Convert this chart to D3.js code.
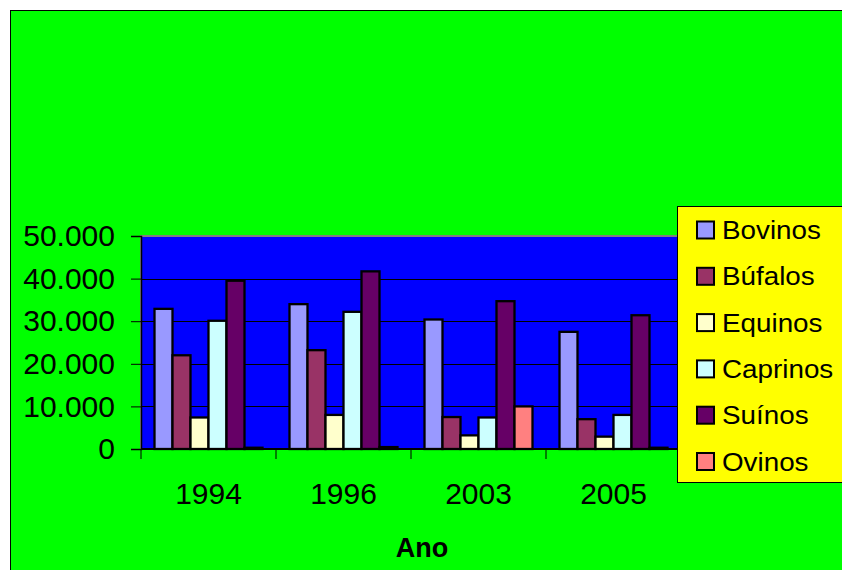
<!DOCTYPE html>
<html>
<head>
<meta charset="utf-8">
<script src="https://cdn.jsdelivr.net/npm/d3@7"></script>
<style>
  html, body { margin: 0; padding: 0; background: #fff; }
  svg { display: block; font-family: "Liberation Sans", Arial, sans-serif; }
</style>
</head>
<body>
<svg id="chart" width="842" height="570"></svg>
<script>
const years = ["1994", "1996", "2003", "2005"];
const series = ["Bovinos", "Búfalos", "Equinos", "Caprinos", "Suínos", "Ovinos"];
const colors = ["#9999FF", "#993366", "#FFFFCC", "#CCFFFF", "#660066", "#FF8080"];
const bovinos  = [32900, 34000, 30400, 27500];
const bufalos  = [22000, 23200, 7500, 7000];
const equinos  = [7400, 8000, 3200, 2900];
const caprinos = [30100, 32200, 7400, 8000];
const suinos   = [39500, 41700, 34700, 31400];
const ovinos   = [300, 450, 10000, 300];
const yTicks = [0, 10000, 20000, 30000, 40000, 50000];
const xTitle = "Ano";

const values = [bovinos, bufalos, equinos, caprinos, suinos, ovinos];

const svg = d3.select("#chart");

// background
svg.append("rect").attr("x", 10.5).attr("y", 10.5).attr("width", 840).attr("height", 570)
  .attr("fill", "#00FF00").attr("stroke", "#000").attr("stroke-width", 1);

const plot = { left: 141, right: 681, top: 236, bottom: 449 };

const x0 = d3.scaleBand().domain(years).range([plot.left, plot.right])
  .paddingInner(0.2).paddingOuter(0.1);
const x1 = d3.scaleBand().domain(series).range([0, x0.bandwidth()]);
const y = d3.scaleLinear().domain([0, 50000]).range([plot.bottom, plot.top]);

// plot area
svg.append("rect").attr("x", plot.left).attr("y", plot.top)
  .attr("width", plot.right - plot.left).attr("height", plot.bottom - plot.top)
  .attr("fill", "#0000FF").attr("stroke", "#808080").attr("stroke-width", 2);

// gridlines
svg.append("g").selectAll("line").data(yTicks.filter(d => d > 0 && d < 50000)).join("line")
  .attr("x1", plot.left).attr("x2", plot.right)
  .attr("y1", d => Math.round(y(d)) + 0.5).attr("y2", d => Math.round(y(d)) + 0.5)
  .attr("stroke", "#000").attr("stroke-width", 1);

// bars
const groups = svg.append("g").selectAll("g").data(years).join("g")
  .attr("transform", d => `translate(${x0(d)},0)`);
groups.selectAll("rect").data((d, i) => series.map((s, j) => ({ s, j, v: values[j][i] }))).join("rect")
  .attr("x", d => x1(d.s))
  .attr("y", d => y(d.v))
  .attr("width", x1.bandwidth())
  .attr("height", d => y(0) - y(d.v))
  .attr("fill", d => colors[d.j])
  .attr("stroke", "#000").attr("stroke-width", 2.3);

// y axis
const yAxis = d3.axisLeft(y).tickValues(yTicks).tickSize(10).tickPadding(16)
  .tickFormat(d => d3.format(",")(d).replace(/,/g, "."));
const ya = svg.append("g").attr("transform", `translate(${plot.left},0)`).call(yAxis);
ya.select(".domain").attr("stroke", "#000").attr("stroke-width", 1.5);
ya.selectAll(".tick line").attr("stroke", "#000");
ya.selectAll(".tick text").attr("font-size", 30).attr("fill", "#000")
  .attr("font-family", "Liberation Sans, Arial, sans-serif");

// x axis
const xb = d3.scaleLinear().domain([0, years.length]).range([plot.left, plot.right]);
const xa = svg.append("g").attr("transform", `translate(0,${plot.bottom})`);
xa.append("line").attr("x1", plot.left).attr("x2", plot.right).attr("y1", 0).attr("y2", 0)
  .attr("stroke", "#000").attr("stroke-width", 2);
xa.selectAll("line.tk").data(d3.range(years.length + 1)).join("line").attr("class", "tk")
  .attr("x1", d => xb(d)).attr("x2", d => xb(d)).attr("y1", 0).attr("y2", 10)
  .attr("stroke", "#000").attr("stroke-width", 1);
xa.selectAll("text").data(years).join("text")
  .attr("x", d => x0(d) + x0.bandwidth() / 2).attr("y", 55)
  .attr("text-anchor", "middle").attr("font-size", 30).attr("fill", "#000").text(d => d);

// x title
svg.append("text").attr("x", 422).attr("y", 557).attr("text-anchor", "middle")
  .attr("font-size", 27).attr("font-weight", "bold").attr("fill", "#000").text(xTitle);

// legend
const lg = svg.append("g");
lg.append("rect").attr("x", 677.5).attr("y", 206.5).attr("width", 170).attr("height", 276)
  .attr("fill", "#FFFF00").attr("stroke", "#000").attr("stroke-width", 1);
const items = lg.selectAll("g").data(series).join("g")
  .attr("transform", (d, i) => `translate(0,${230 + i * 46.3})`);
items.append("rect").attr("x", 697).attr("y", -8.5).attr("width", 17).attr("height", 17)
  .attr("fill", (d, i) => colors[i]).attr("stroke", "#000").attr("stroke-width", 2);
items.append("text").attr("transform", "translate(722,9) scale(1.07,1)")
  .attr("font-size", 26).attr("fill", "#000").text(d => d);
</script>
</body>
</html>
